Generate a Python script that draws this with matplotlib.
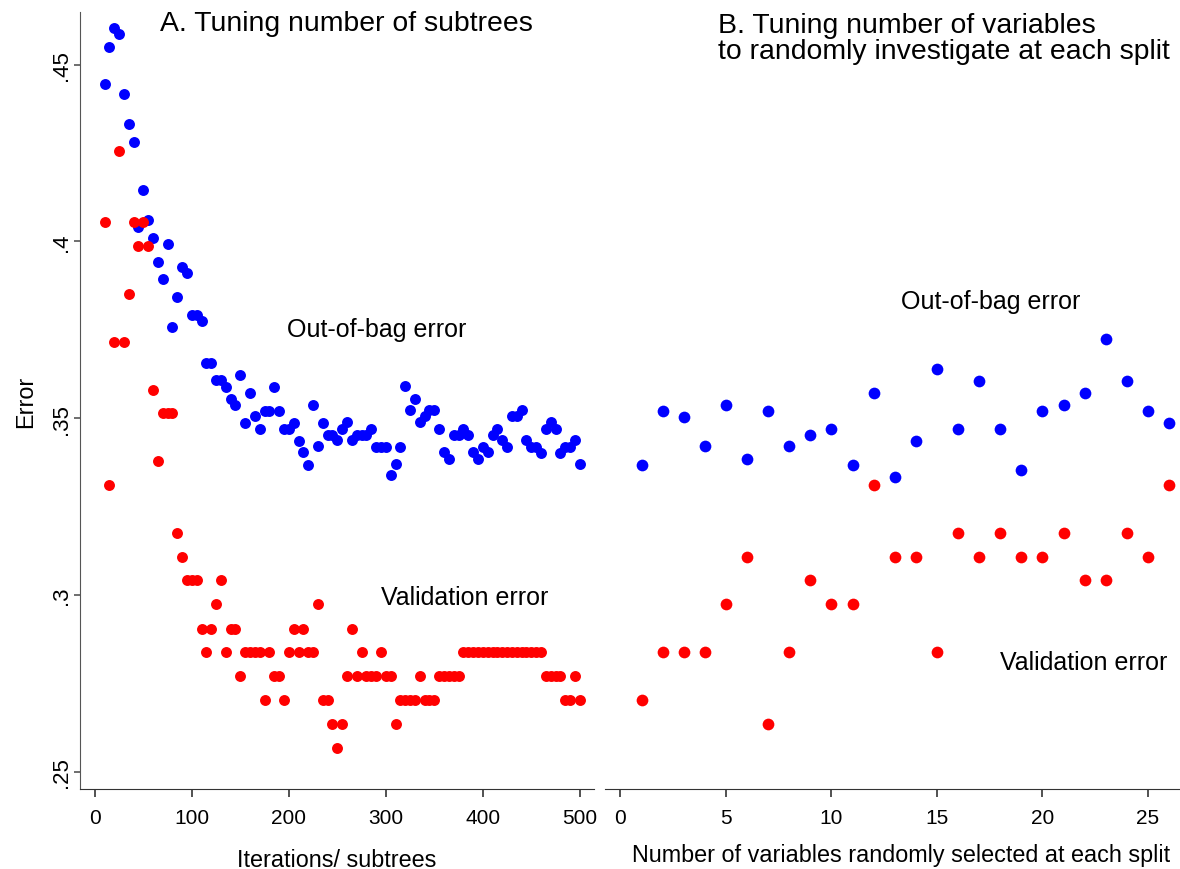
import matplotlib

matplotlib.use("Agg")
import matplotlib.pyplot as plt

plt.rcParams["font.family"] = ["Liberation Sans", "DejaVu Sans"]

# Panel A: error by number of subtrees (10..500, step 5)
iterations = list(range(10, 505, 5))
oob_iter = [
    0.4446, 0.4551, 0.4605, 0.4588, 0.4418, 0.4333, 0.4282, 0.4042, 0.4146, 0.4062,
    0.4011, 0.3943, 0.3895, 0.3994, 0.3757, 0.3844, 0.3928, 0.3910, 0.3793, 0.3793,
    0.3774, 0.3656, 0.3656, 0.3607, 0.3607, 0.3588, 0.3555, 0.3536, 0.3622, 0.3486,
    0.3571, 0.3505, 0.3469, 0.3519, 0.3519, 0.3588, 0.3519, 0.3469, 0.3469, 0.3486,
    0.3436, 0.3403, 0.3368, 0.3537, 0.3420, 0.3486, 0.3453, 0.3453, 0.3437, 0.3470,
    0.3488, 0.3437, 0.3453, 0.3453, 0.3453, 0.3470, 0.3418, 0.3418, 0.3418, 0.3338,
    0.3369, 0.3418, 0.3590, 0.3523, 0.3555, 0.3488, 0.3505, 0.3523, 0.3523, 0.3470,
    0.3405, 0.3385, 0.3453, 0.3453, 0.3470, 0.3453, 0.3405, 0.3385, 0.3418, 0.3405,
    0.3453, 0.3470, 0.3437, 0.3418, 0.3505, 0.3505, 0.3523, 0.3437, 0.3418, 0.3418,
    0.3402, 0.3470, 0.3488, 0.3470, 0.3402, 0.3418, 0.3418, 0.3437, 0.3369,
]
val_iter = [
    0.4054, 0.3311, 0.3716, 0.4257, 0.3716, 0.3851, 0.4054, 0.3986, 0.4054, 0.3986,
    0.3581, 0.3378, 0.3514, 0.3514, 0.3514, 0.3176, 0.3108, 0.3041, 0.3041, 0.3041,
    0.2905, 0.2838, 0.2905, 0.2973, 0.3041, 0.2838, 0.2905, 0.2905, 0.2770, 0.2838,
    0.2838, 0.2838, 0.2838, 0.2703, 0.2838, 0.2770, 0.2770, 0.2703, 0.2838, 0.2905,
    0.2838, 0.2905, 0.2838, 0.2838, 0.2973, 0.2703, 0.2703, 0.2635, 0.2568, 0.2635,
    0.2770, 0.2905, 0.2770, 0.2838, 0.2770, 0.2770, 0.2770, 0.2838, 0.2770, 0.2770,
    0.2635, 0.2703, 0.2703, 0.2703, 0.2703, 0.2770, 0.2703, 0.2703, 0.2703, 0.2770,
    0.2770, 0.2770, 0.2770, 0.2770, 0.2838, 0.2838, 0.2838, 0.2838, 0.2838, 0.2838,
    0.2838, 0.2838, 0.2838, 0.2838, 0.2838, 0.2838, 0.2838, 0.2838, 0.2838, 0.2838,
    0.2838, 0.2770, 0.2770, 0.2770, 0.2770, 0.2703, 0.2703, 0.2770, 0.2703,
]

# Panel B: error by number of variables tried at each split
n_vars = list(range(1, 27))
oob_vars = [
    0.3368, 0.3521, 0.3504, 0.3420, 0.3538, 0.3385, 0.3521, 0.3420, 0.3453, 0.3470,
    0.3368, 0.3571, 0.3335, 0.3436, 0.3639, 0.3470, 0.3606, 0.3470, 0.3352, 0.3521,
    0.3538, 0.3571, 0.3723, 0.3606, 0.3521, 0.3486,
]
val_vars = [
    0.2703, 0.2838, 0.2838, 0.2838, 0.2973, 0.3108, 0.2635, 0.2838, 0.3041, 0.2973,
    0.2973, 0.3311, 0.3108, 0.3108, 0.2838, 0.3176, 0.3108, 0.3176, 0.3108, 0.3108,
    0.3176, 0.3041, 0.3041, 0.3176, 0.3108, 0.3311,
]

W, H = 1180, 870
YLIM = (0.2451, 0.4649)
DOT = 62
TICK_FS = 15
LABEL_FS = 16.8
NOTE_FS = 18
TITLE_FS = 20.4


def _style(ax, show_y):
    for s in ("top", "right"):
        ax.spines[s].set_visible(False)
    ax.spines["bottom"].set_color("#333333")
    ax.spines["left"].set_color("#555555")
    ax.spines["left"].set_visible(show_y)
    ax.tick_params(axis="x", direction="out", length=6, width=1.2, color="#333333",
                   labelsize=TICK_FS, pad=8)
    ax.set_ylim(*YLIM)
    ax.set_yticks([0.25, 0.3, 0.35, 0.4, 0.45])
    if show_y:
        ax.set_yticklabels([".25", ".3", ".35", ".4", ".45"], rotation=90, va="center")
        ax.tick_params(axis="y", direction="out", length=4.5, width=1.2, color="#555555",
                       labelsize=16, pad=1)
    else:
        ax.tick_params(axis="y", left=False, labelleft=False)


fig = plt.figure(figsize=(W / 100, H / 100), dpi=100)
top = 1 - 13 / H
bottom = 1 - 790 / H
ax_a = fig.add_axes([80 / W, bottom, (594 - 80) / W, top - bottom])
ax_b = fig.add_axes([605 / W, bottom, (1180 - 605) / W, top - bottom])

ax_a.scatter(iterations, oob_iter, s=DOT, color="#0000ff", linewidths=0, zorder=3)
ax_a.scatter(iterations, val_iter, s=DOT, color="#ff0000", linewidths=0, zorder=4)
ax_a.set_xlim(-15.3, 514.6)
ax_a.set_xticks([0, 100, 200, 300, 400, 500])
_style(ax_a, True)
ax_a.set_xlabel("Iterations/ subtrees", fontsize=LABEL_FS, labelpad=14.5)
ax_a.set_ylabel("Error", fontsize=LABEL_FS, labelpad=10)
ax_a.text(291, 0.3752, "Out-of-bag error", fontsize=NOTE_FS, ha="center", va="center")
ax_a.text(381, 0.2993, "Validation error", fontsize=NOTE_FS, ha="center", va="center")

ax_b.scatter(n_vars, oob_vars, s=DOT * 1.15, color="#0000ff", linewidths=0, zorder=3)
ax_b.scatter(n_vars, val_vars, s=DOT * 1.15, color="#ff0000", linewidths=0, zorder=4)
ax_b.set_xlim(-0.73, 26.52)
ax_b.set_xticks([0, 5, 10, 15, 20, 25])
_style(ax_b, False)
ax_b.set_xlabel("Number of variables randomly selected at each split",
                fontsize=LABEL_FS, labelpad=14)
# label sits a little right of the panel centre in the original
ax_b.xaxis.set_label_coords((901 - 605) / (1180 - 605), -0.07)
ax_b.text(17.56, 0.3831, "Out-of-bag error", fontsize=NOTE_FS, ha="center", va="center")
ax_b.text(21.97, 0.2810, "Validation error", fontsize=NOTE_FS, ha="center", va="center")

fig.text(160 / W, 1 - 24 / H, "A. Tuning number of subtrees", fontsize=TITLE_FS,
         ha="left", va="center")
fig.text(1170 / W, 1 - 39 / H,
         "B. Tuning number of variables\nto randomly investigate at each split",
         fontsize=TITLE_FS, ha="right", va="center", multialignment="left", linespacing=1.0)

fig.savefig("out.png", dpi=100)
plt.close(fig)
